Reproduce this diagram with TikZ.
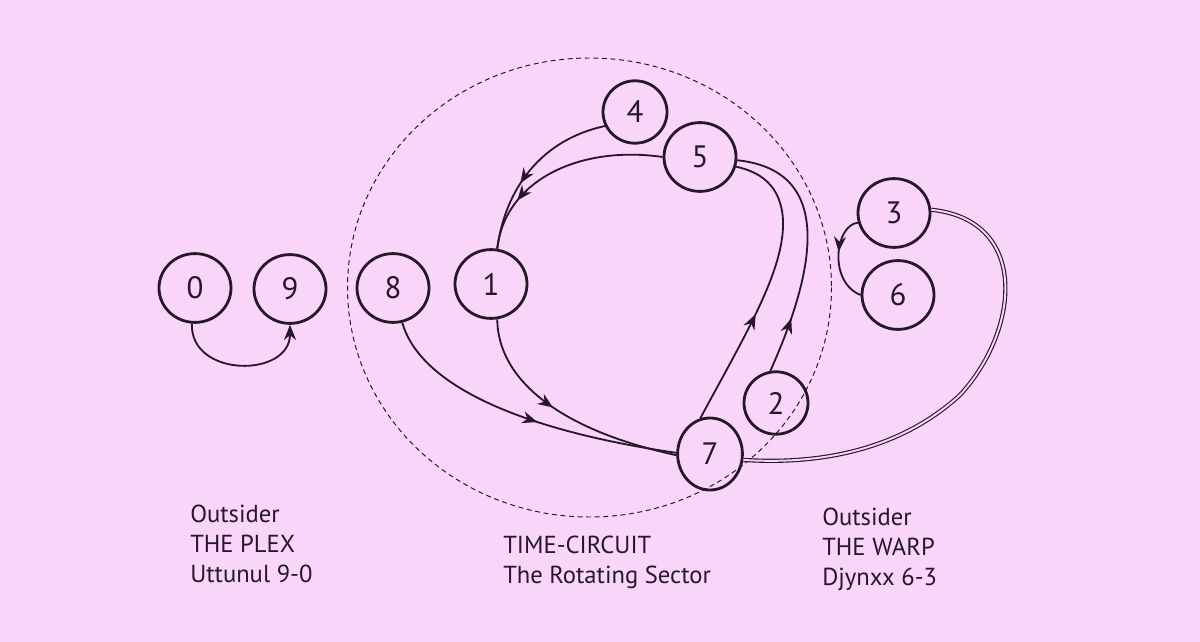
\documentclass[tikz,border=0pt]{standalone}
\usepackage{fontspec}
\setsansfont{PT Sans}
\usepackage{tikz}
\usetikzlibrary{arrows.meta, shapes.geometric, decorations.markings}

\definecolor{bgpink}{RGB}{249,213,250}
\definecolor{ink}{RGB}{38,24,40}
\newcommand{\numfont}{\sffamily\fontsize{22}{26}\selectfont}
\newcommand{\capfont}{\sffamily\fontsize{17.5}{21.3}\selectfont}

\begin{document}
\begin{tikzpicture}[
    x=0.025cm, y=-0.025cm,
    numnode/.style={draw=ink, ellipse, line width=2pt, minimum width=1.8cm, minimum height=1.72cm, inner sep=0pt, font=\numfont, text=ink},
    smallnode/.style={numnode, minimum width=1.6cm, minimum height=1.56cm},
    flow/.style={draw=ink, line width=1.3pt},
    midarrow/.style={postaction={decorate}, decoration={markings, mark=at position #1 with {\arrow{Stealth[length=3.8mm, width=3mm]}}}},
    caption/.style={align=left, anchor=north west, font=\capfont, text=ink, inner sep=0pt}
]
\fill[bgpink] (0,0) rectangle (1200,642);

% rotating sector
\draw[ink, line width=0.7pt, dash pattern=on 3.5pt off 2.6pt] (589.5,287.5) ellipse [x radius=242, y radius=229.5];

\node[numnode] (zero) at (195,288) {0};
\node[numnode] (nine) at (290,289) {9};
\node[numnode] (eight) at (393,288) {8};
\node[numnode] (one) at (491,284) {1};
\node[smallnode] (four) at (635,112) {4};
\node[numnode] (five) at (700,157) {5};
\node[numnode] (three) at (894,213) {3};
\node[numnode] (six) at (898,295) {6};
\node[smallnode] (two) at (776,403) {2};
\node[numnode, minimum width=1.62cm, minimum height=1.8cm] (seven) at (710,454) {7};

\draw[flow, -{Stealth[length=3.8mm, width=3mm]}] (zero.-95) .. controls (190,378) and (290,378) .. (nine.south);
\draw[flow, midarrow=0.55] (eight.-75) .. controls (420,385) and (520,430) .. (seven.178);
\draw[flow, midarrow=0.45] (one.-80) .. controls (498,380) and (560,430) .. (seven.182);
\draw[flow, midarrow=0.4] (seven.105) .. controls (745,335) and (785,270) .. (783,220) .. controls (781,185) and (760,172) .. (five.-15);
\draw[flow, midarrow=0.22] (two.100) .. controls (820,260) and (830,170) .. (five.-5);
\draw[flow, midarrow=0.75] (five.180) .. controls (580,145) and (505,180) .. (one.80);
\draw[flow, midarrow=0.6] (four.-155) .. controls (540,140) and (505,190) .. (one.80);
\draw[flow, midarrow=0.42] (three.-165) .. controls (835,225) and (828,282) .. (six.180);
\draw[ink, line width=0.8pt, double=bgpink, double distance=1.4pt] (three.5) .. controls (1030,220) and (1020,330) .. (960,395) .. controls (900,450) and (820,465) .. (seven.-10);

\node[caption] (plex) at (190,505) {Outsider\\THE PLEX\\Uttunul 9-0};
\node[caption] (circuit) at (503,536) {TIME-CIRCUIT\\The Rotating Sector};
\node[caption] (warp) at (822,508) {Outsider\\THE WARP\\Djynxx 6-3};
\end{tikzpicture}
\end{document}
